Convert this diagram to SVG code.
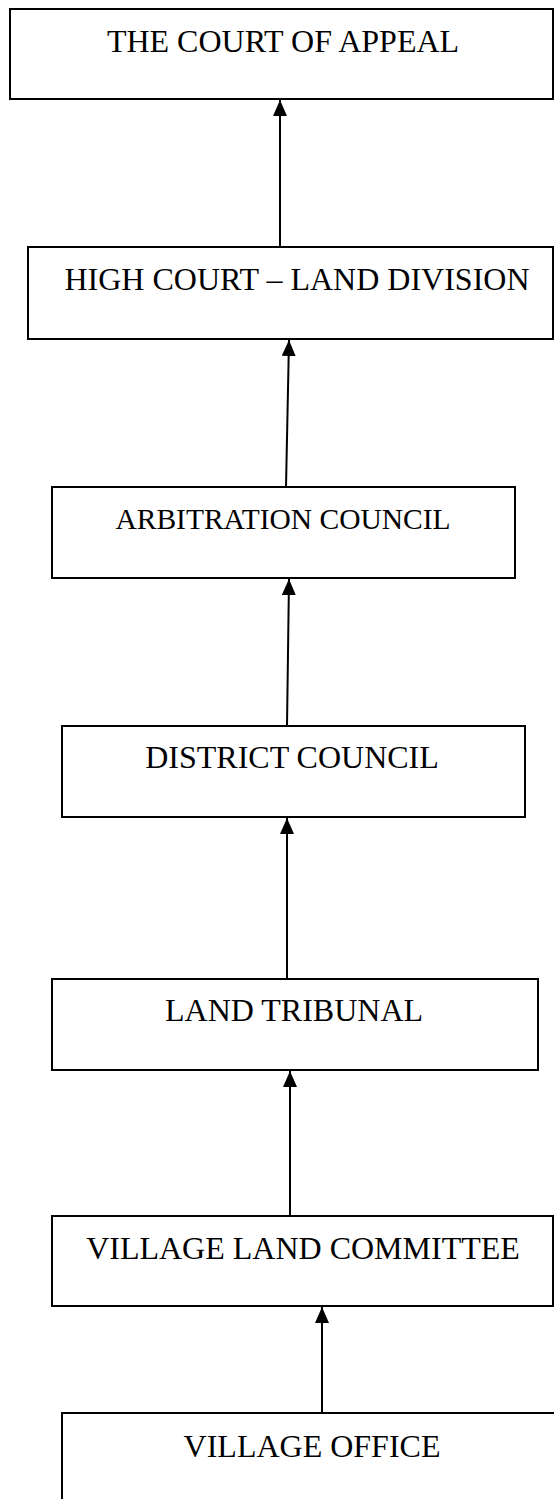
<svg xmlns="http://www.w3.org/2000/svg" width="554" height="1499" viewBox="0 0 554 1499">
<style>
.box{fill:#fff;stroke:#000;stroke-width:2}
.lbl{font-family:"Liberation Serif","Times New Roman",serif;font-size:32px;fill:#000;text-anchor:middle}
.sm{font-size:29.5px}
.con{stroke:#000;stroke-width:2;fill:none;marker-end:url(#ah)}
</style>
<defs>
<marker id="ah" markerUnits="userSpaceOnUse" markerWidth="16" markerHeight="14" viewBox="0 0 16 14" refX="16" refY="7" orient="auto">
<path d="M0,0 L16,7 L0,14 Z" fill="#000"/>
</marker>
</defs>
<rect width="554" height="1499" fill="#fff"/>
<g id="n1"><rect class="box" x="10" y="9" width="543" height="90"/><text class="lbl" x="283" y="52">THE COURT OF APPEAL</text></g>
<g id="n2"><rect class="box" x="28" y="247" width="525" height="92"/><text class="lbl" x="297" y="290">HIGH COURT – LAND DIVISION</text></g>
<g id="n3"><rect class="box" x="52" y="487" width="463" height="91"/><text class="lbl sm" x="283" y="529">ARBITRATION COUNCIL</text></g>
<g id="n4"><rect class="box" x="62" y="726" width="463" height="91"/><text class="lbl" x="292" y="768">DISTRICT COUNCIL</text></g>
<g id="n5"><rect class="box" x="52" y="979" width="486" height="91"/><text class="lbl" x="294" y="1021">LAND TRIBUNAL</text></g>
<g id="n6"><rect class="box" x="52" y="1216" width="501" height="90"/><text class="lbl" x="303" y="1259">VILLAGE LAND COMMITTEE</text></g>
<g id="n7"><rect class="box" x="62" y="1413" width="500" height="100"/><text class="lbl" x="312" y="1457">VILLAGE OFFICE</text></g>
<g id="connectors">
<line class="con" x1="280" y1="247" x2="280" y2="100"/>
<line class="con" x1="286" y1="487" x2="289" y2="340"/>
<line class="con" x1="287" y1="726" x2="289" y2="579"/>
<line class="con" x1="287" y1="979" x2="287" y2="818"/>
<line class="con" x1="290" y1="1216" x2="290" y2="1071"/>
<line class="con" x1="322" y1="1413" x2="322" y2="1307"/>
</g>
</svg>
